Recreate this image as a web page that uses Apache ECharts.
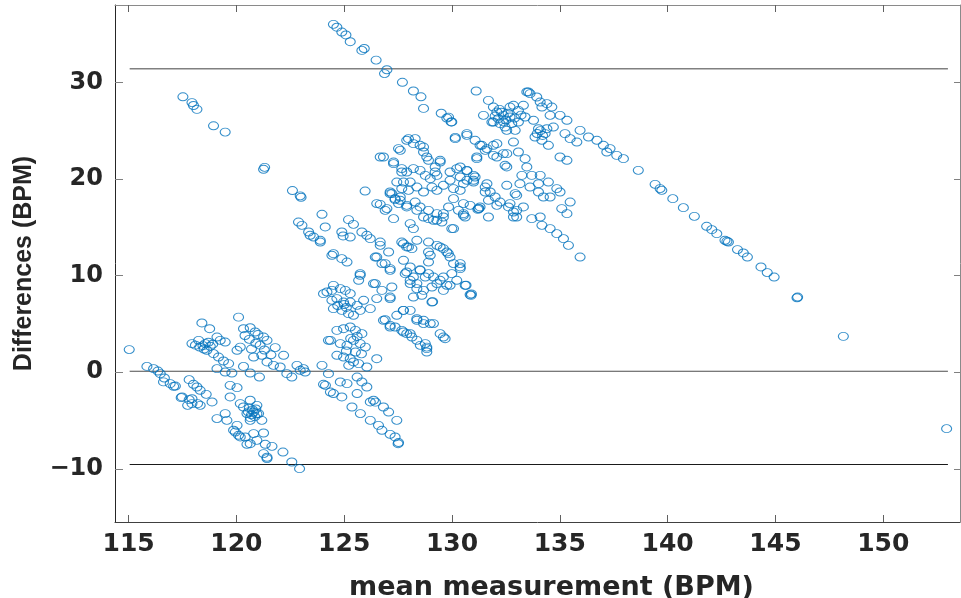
<!DOCTYPE html>
<html>
<head>
<meta charset="utf-8">
<script src="https://cdn.jsdelivr.net/npm/echarts@6/dist/echarts.min.js"></script>
<style>
html,body{margin:0;padding:0;background:#fff;}
#chart{width:961px;height:598px;}
</style>
</head>
<body>
<div id="chart"></div>
<script>
// ---- data: [mean measurement (BPM), difference (BPM)] ----
const upperLeftStreak = [[117.52,28.5],[117.94,27.9],[118.01,27.6],[118.17,27.2],[118.94,25.5],[119.48,24.85],[121.26,21.0],[121.31,21.2],[122.6,18.8],[122.96,18.25],[123.0,18.1]];
const topStreak = [[124.5,36.0],[124.66,35.7],[124.89,35.2],[125.08,34.9],[125.28,34.2],[125.82,33.3],[125.93,33.5],[126.48,32.3],[126.98,31.3],[126.87,30.9],[127.7,30.0],[128.21,29.1],[128.56,28.5],[128.68,27.3],[129.5,26.8],[129.76,26.3],[129.96,25.9],[130.15,24.3]];
const clusterC = [[123.97,16.34],[125.97,18.75],[126.67,17.37],[126.98,16.93],[127.36,17.86],[122.88,15.54],[123.04,15.2],[123.35,14.51],[123.58,13.99],[124.12,15.03],[125.2,15.79],[125.43,15.3],[124.89,14.51],[125.82,14.51],[126.05,14.17],[127.21,18.48],[127.44,19.68],[127.67,20.72],[123.42,14.17],[123.89,13.47],[124.43,12.1],[124.89,11.75],[125.13,11.4],[124.95,14.1],[125.28,13.99],[126.21,13.82],[126.67,13.13],[127.06,12.44],[126.44,11.92],[126.75,11.24],[127.13,10.72],[125.74,10.03],[127.75,13.3],[127.98,12.96],[124.5,12.27],[123.89,13.65]];
const clusterD = [[127.9,24.0],[126.67,22.27],[127.29,21.58],[127.6,22.96],[128.29,24.17],[128.68,23.3],[128.83,22.27],[129.45,21.75],[130.38,21.24],[130.69,20.89],[129.22,20.72],[127.13,18.65],[127.6,18.13],[127.52,17.45],[127.9,17.1],[128.37,16.75],[128.68,16.06],[128.91,15.89],[129.3,15.72],[129.6,16.41],[129.84,17.1],[130.07,17.96],[130.53,17.45],[131.23,16.93],[131.69,17.79],[131.54,18.65],[131.0,19.86],[131.62,19.51],[130.07,14.86],[130.61,16.06],
[127.98,24.17],[128.21,23.65],[128.52,23.48],[128.68,22.79],[126.82,22.27],[127.29,21.75],[127.52,23.14],[127.67,21.07],[127.9,20.72],[128.21,21.07],[128.52,20.89],[128.91,21.93],[129.45,21.93],[129.22,21.24],[128.76,20.37],[128.99,20.03],[129.3,20.37],[129.91,20.72],[130.22,21.07],[130.69,20.85],[131.0,20.37],[130.38,20.2],[129.91,19.86],[129.6,19.34],[130.07,19.0],[130.38,18.82],[130.69,19.86],[131.0,19.68],[127.75,19.68],[128.06,19.68],[127.67,19.0],[127.98,18.82],[128.37,19.16],[128.68,18.65],[129.07,19.16],[129.3,18.82],[127.13,18.48],[127.36,17.96],[127.6,17.79],[126.51,17.45],[126.9,16.75],[127.9,17.27],[128.29,17.61],[128.52,17.1],[128.91,16.75],[129.3,16.41],[129.6,16.06],[129.99,14.86],[127.29,15.89],[128.06,15.38],[128.21,14.86],[129.14,15.72],[129.53,15.54],[130.3,16.75],[130.53,16.24],[130.84,17.27],[131.2,16.85],[131.25,16.95],[131.69,16.06],
[130.15,24.17],[130.69,24.51],[131.07,24.0],[131.3,23.48],[131.62,23.14],[132.08,23.65],[131.92,22.44],[131.15,22.27],[132.54,22.62],[132.46,21.41],[131.46,26.58],[129.84,26.4],[129.99,25.9],
[131.54,19.16],[131.77,18.65],[132.0,18.13],[132.23,17.61],[132.62,17.1],[132.85,16.58],[133.0,16.06],[132.54,19.34],[133.0,18.3],[133.31,17.1]];
const clusterE = [[126.67,13.47],[126.51,11.92],[126.9,11.24],[127.13,10.54],[127.67,13.47],[127.9,12.96],[128.14,12.79],[128.37,13.65],[128.91,13.47],[129.45,12.96],[129.76,12.44],[129.91,11.92],[130.38,11.24],[128.99,12.1],[127.75,11.58],[128.06,10.89],[128.52,10.54],[128.76,9.85],[127.83,10.2],[128.06,9.51],[128.37,9.17],[128.68,8.47],[129.07,8.82],[129.3,9.17],[129.6,9.85],[129.91,8.99],[130.22,9.51],[130.61,8.99],[129.07,7.26],[128.21,7.78],[130.84,8.03],[130.88,7.95],[130.9,8.1],[126.44,9.17],[126.75,8.47],[127.13,7.62],[127.75,6.4],[126.82,5.37],[127.13,4.68],[127.75,4.16],[128.06,3.99],[128.37,5.37],[128.68,5.03],[129.14,5.03],[129.6,3.64],[128.76,2.96],[128.83,2.44],
[125.74,10.2],[125.67,9.51],[126.36,9.17],[127.21,8.82],[126.51,7.62],[127.13,7.78],[126.9,5.44],[127.13,4.85],[127.36,4.68],[127.67,4.33],[127.9,3.99],[128.14,3.64],[128.37,3.3],[128.53,2.78],[128.83,2.6],[128.83,2.09],[127.44,5.89],[127.74,6.4],[128.06,6.4],[128.37,5.54],[128.68,5.37],[128.99,5.03],[129.45,3.99],[129.68,3.47],[127.9,10.37],[128.21,9.85],[128.06,9.17],[128.37,8.65],[128.6,7.96],[129.1,7.3],[128.52,10.6],[128.91,10.2],[129.14,9.85],[129.45,9.51],[129.76,8.99],[129.3,13.13],[129.6,12.79],[129.83,12.27],[128.91,12.44],[128.91,11.4],[130.07,11.24],[130.38,10.72],[130.65,9.0],[129.99,10.2],[129.6,8.47]];
const clusterF = [[124.04,8.13],[124.5,8.99],[124.82,8.65],[125.05,8.47],[125.28,8.13],[124.66,7.62],[124.97,7.26],[125.28,7.26],[125.6,6.92],[124.5,6.58],[124.89,6.4],[125.2,6.06],[125.43,5.89],[125.74,6.4],[126.21,6.58],[125.9,7.44],[124.43,7.44],[124.43,8.47],[124.2,8.3],[125.0,7.0],[125.1,6.7],[124.7,6.9],
[124.27,3.3],[124.66,4.33],[124.97,4.5],[125.28,4.68],[125.52,4.33],[125.82,3.99],[124.82,2.96],[125.13,2.78],[125.43,3.3],[125.74,2.96],[125.98,2.6],[124.66,1.75],[124.97,1.57],[125.28,1.4],[125.52,2.09],[125.43,1.06],[125.21,0.71],[125.67,0.89],[126.05,0.54],[126.51,1.4],[124.36,3.3],[125.3,3.5],[125.6,3.7],[125.1,2.2],[125.8,1.9]];
const clusterG = [[122.96,0.2],[123.19,0.02],[123.97,0.71],[124.27,-0.15],[124.04,-1.25],[124.5,-2.21],[124.89,-2.56],[124.82,-1.01],[125.13,-1.18],[125.6,-0.5],[125.82,-1.01],[126.05,-1.53],[125.6,-2.21],[125.36,-3.6],[125.75,-4.28],[126.21,-3.08],[126.36,-2.9],[126.45,-3.1],[126.82,-3.6],[127.06,-4.12],[127.44,-4.98],[126.21,-4.98],[126.59,-5.5],[126.75,-6.01],[127.13,-6.43],[127.36,-6.7],[127.52,-7.28],[127.5,-7.4],[124.13,-1.36],[124.36,-2.05]];
const clusterH = [[115.03,2.34],[115.85,0.6],[116.16,0.37],[116.36,0.12],[116.47,-0.15],[116.66,-0.6],[116.93,-1.18],[117.17,-1.43],[117.81,-0.77],[118.01,-1.25],[118.17,-1.53],[118.32,-1.87],[118.6,-2.29],[118.87,-3.08],[117.44,-2.63],[117.81,-2.84],[117.94,-3.25],[118.2,-3.25],[118.32,-3.43],[117.74,-3.43],[116.62,-1.0],[117.09,-1.46],[117.48,-2.56],[117.94,-2.74],
[118.4,5.1],[118.76,4.5],[117.94,2.96],[118.25,3.3],[118.56,2.96],[118.79,2.68],[119.1,3.64],[119.25,3.3],[119.48,3.12],[120.1,5.7],[120.33,4.5],[120.64,4.6],[120.87,4.16],[121.26,3.64],[121.42,3.3],[121.8,2.55],[122.19,1.75],[120.18,2.6],[120.03,2.27],[118.63,2.27],[118.94,1.92],[119.17,1.57],[119.4,1.16],[119.64,0.89],[119.1,0.37],[119.48,0.02],[119.79,-0.08],[120.33,0.6],[120.8,1.57],[121.18,1.75],[121.42,1.06],[121.72,0.71],[122.03,0.54],[122.34,-0.15],[122.57,-0.5],[122.81,0.71],[123.11,0.37],[121.07,-0.5],[120.64,-0.08],
[118.3,2.6],[118.5,2.4],[118.7,3.1],[118.9,2.9],[118.45,2.75],[118.1,2.8],[120.6,3.4],[120.9,3.0],[121.1,2.8],[120.7,2.4],[121.3,2.3],[120.4,3.8],[121.6,1.8],[121.0,3.9]];
const clusterI = [[119.71,-1.36],[120.03,-1.6],[119.71,-2.56],[120.18,-3.25],[120.33,-3.6],[120.64,-2.9],[120.95,-3.43],[120.49,-4.28],[120.8,-4.12],[121.03,-4.28],[121.18,-4.98],[120.64,-4.98],[119.48,-4.28],[119.1,-4.8],[119.56,-4.98],[120.03,-5.5],[119.95,-6.19],[120.1,-6.53],[120.41,-6.71],[120.8,-6.35],[121.26,-6.29],[120.95,-7.05],[121.34,-7.46],[121.65,-7.67],[121.26,-8.42],[121.42,-8.94],[122.16,-8.26],[122.57,-9.29],[122.93,-9.98],[120.49,-7.46],[119.87,-6.0],[120.18,-6.7],[120.64,-7.4],[121.42,-8.8],
[120.6,-3.7],[120.7,-4.4],[120.75,-3.9],[120.85,-4.6],[120.55,-4.1],[120.9,-3.8],[120.65,-4.7],[120.95,-4.3]];
const clusterJ = [[131.12,29.1],[131.69,28.13],[131.92,27.44],[132.08,26.92],[131.85,25.89],[132.15,26.24],[132.38,26.58],[132.69,27.44],[132.85,27.62],[133.08,27.1],[133.31,27.62],[133.54,29.0],[133.62,28.83],[133.93,28.48],[134.09,27.96],[134.4,27.79],[134.63,27.44],[134.17,27.44],[134.55,26.58],[135.01,26.58],[135.33,26.07],[131.92,25.89],[132.23,25.72],[132.46,25.37],[132.77,25.72],[132.93,25.03],[133.08,25.89],[133.39,26.41],[133.78,26.07],[134.01,25.2],[133.85,24.34],[134.17,24.0],[134.47,23.48],[134.32,24.69],[134.7,25.37],[135.24,24.69],[135.48,24.17],[135.79,23.82],[135.94,25.03],[136.33,24.34],[136.72,24.0],[137.02,23.48],[137.33,23.14],[137.64,22.44],[137.95,22.1],[137.18,22.79],[135.01,22.27],[135.33,21.93],[132.69,26.41],[132.54,25.03],[132.85,23.82],[133.08,22.79],[133.39,22.1],[132.38,22.62],[132.54,21.24],[131.92,23.48],[132.08,22.27],[131.54,22.96],[131.15,22.1],[130.69,24.69],[131.38,23.48],[133.47,21.24],[133.24,20.37],[133.7,20.37],[134.09,20.37],[134.01,19.51],[134.47,19.68],[134.86,19.0],[134.55,18.13],[135.01,18.65],[133.15,19.51],[133.62,19.16],[134.01,18.65],[134.24,18.13],[135.09,16.93],[135.33,16.41],[135.48,17.61],[132.93,18.48],[132.69,17.45],[133.0,16.75],[132.85,16.06],[133.7,15.89],[134.09,16.06],[134.17,15.2],[134.55,14.86],[134.86,14.34],[135.17,13.82],[135.4,13.13],[135.94,11.92],[132.08,17.27],[131.3,17.1],[131.07,20.2],[130.53,19.51],[130.53,16.41],[130.38,10.89],
[132.3,26.9],[132.5,26.1],[132.2,27.2],[132.9,26.3],[132.6,26.8],[133.2,26.6],[132.0,26.5],[132.4,25.9],[134.1,25.0],[133.95,24.7],[134.2,24.5],[134.4,25.2],[133.47,29.0]];
const rightStreak = [[138.64,20.89],[139.42,19.44],[139.65,19.0],[139.73,18.82],[140.24,17.96],[140.73,17.03],[141.24,16.13],[141.81,15.1],[142.05,14.75],[142.28,14.34],[142.66,13.65],[142.82,13.47],[142.75,13.55],[143.24,12.69],[143.51,12.34],[143.7,11.92],[144.33,10.89],[144.62,10.31],[144.94,9.85],[146.03,7.78],[146.0,7.7],[148.15,3.71],[152.94,-5.84]];

// reference lines: upper limit, zero line, lower limit
const limitLevels = [31.4, 0.1, -9.55];
const limitColors = ['#808080', '#4d4d4d', '#1a1a1a'];
const lineSpan = [115.05, 153.0];

// axes
const xRange = [114.37, 153.56];
const yRange = [-15.5, 38];
const xTicks = [115, 120, 125, 130, 135, 140, 145, 150];
const yTicks = [-10, 0, 10, 20, 30];

const points = [].concat(upperLeftStreak, topStreak, clusterC, clusterD, clusterE, clusterF, clusterG, clusterH, clusterI, clusterJ, rightStreak);

const chart = echarts.init(document.getElementById('chart'), null, {renderer: 'canvas'});
const tickFont = {fontFamily: 'DejaVu Sans', fontWeight: 'bold', fontSize: 24, color: '#262626'};
const minusFmt = v => String(v).replace('-', '\u2212');

const lineSeries = limitLevels.map((lv, i) => ({
  type: 'line',
  data: [[lineSpan[0], lv], [lineSpan[1], lv]],
  symbol: 'none',
  silent: true,
  lineStyle: {color: limitColors[i], width: i === 0 ? 1.5 : 1.2},
  z: 1
}));

chart.setOption({
  animation: false,
  backgroundColor: '#fff',
  grid: {left: 115, right: 1, top: 5, bottom: 76, containLabel: false, outerBoundsMode: 'none'},
  xAxis: [{
    type: 'value', min: xRange[0], max: xRange[1],
    axisLine: {show: true, onZero: false, lineStyle: {color: '#404040', width: 1}},
    axisTick: {show: true, inside: true, length: 7, customValues: xTicks, lineStyle: {color: '#606060'}},
    axisLabel: {show: true, customValues: xTicks, margin: 10, ...tickFont, fontSize: 25},
    splitLine: {show: false},
    name: 'mean measurement (BPM)', nameLocation: 'middle', nameGap: 52,
    nameTextStyle: {fontFamily: 'DejaVu Sans', fontWeight: 'bold', fontSize: 27, color: '#262626', padding: [0, 0, 0, 28]}
  }, {
    type: 'value', min: xRange[0], max: xRange[1], position: 'top',
    axisLine: {show: true, onZero: false, lineStyle: {color: '#8a8a8a', width: 1}},
    axisTick: {show: true, inside: true, length: 7, customValues: xTicks, lineStyle: {color: '#606060'}},
    axisLabel: {show: false},
    splitLine: {show: false}
  }],
  yAxis: [{
    type: 'value', min: yRange[0], max: yRange[1],
    axisLine: {show: true, onZero: false, lineStyle: {color: '#262626', width: 1}},
    axisTick: {show: true, inside: true, length: 8, customValues: yTicks, lineStyle: {color: '#808080'}},
    axisLabel: {show: true, customValues: yTicks, margin: 12, formatter: minusFmt, ...tickFont},
    splitLine: {show: false},
    name: 'Differences (BPM)', nameLocation: 'middle', nameGap: 78,
    nameTextStyle: {fontFamily: 'Liberation Sans', fontWeight: 'bold', fontSize: 25, color: '#262626'}
  }, {
    type: 'value', min: yRange[0], max: yRange[1], position: 'right',
    axisLine: {show: true, onZero: false, lineStyle: {color: '#8a8a8a', width: 1}},
    axisTick: {show: true, inside: true, length: 6, customValues: yTicks, lineStyle: {color: '#808080'}},
    axisLabel: {show: false},
    splitLine: {show: false}
  }],
  series: [{
    type: 'scatter',
    data: points,
    symbol: 'circle',
    symbolSize: [10, 8],
    itemStyle: {color: 'rgba(0,0,0,0)', borderColor: '#0072BD', borderWidth: 1, opacity: 0.8},
    z: 2
  }].concat(lineSeries)
});
</script>
</body>
</html>
